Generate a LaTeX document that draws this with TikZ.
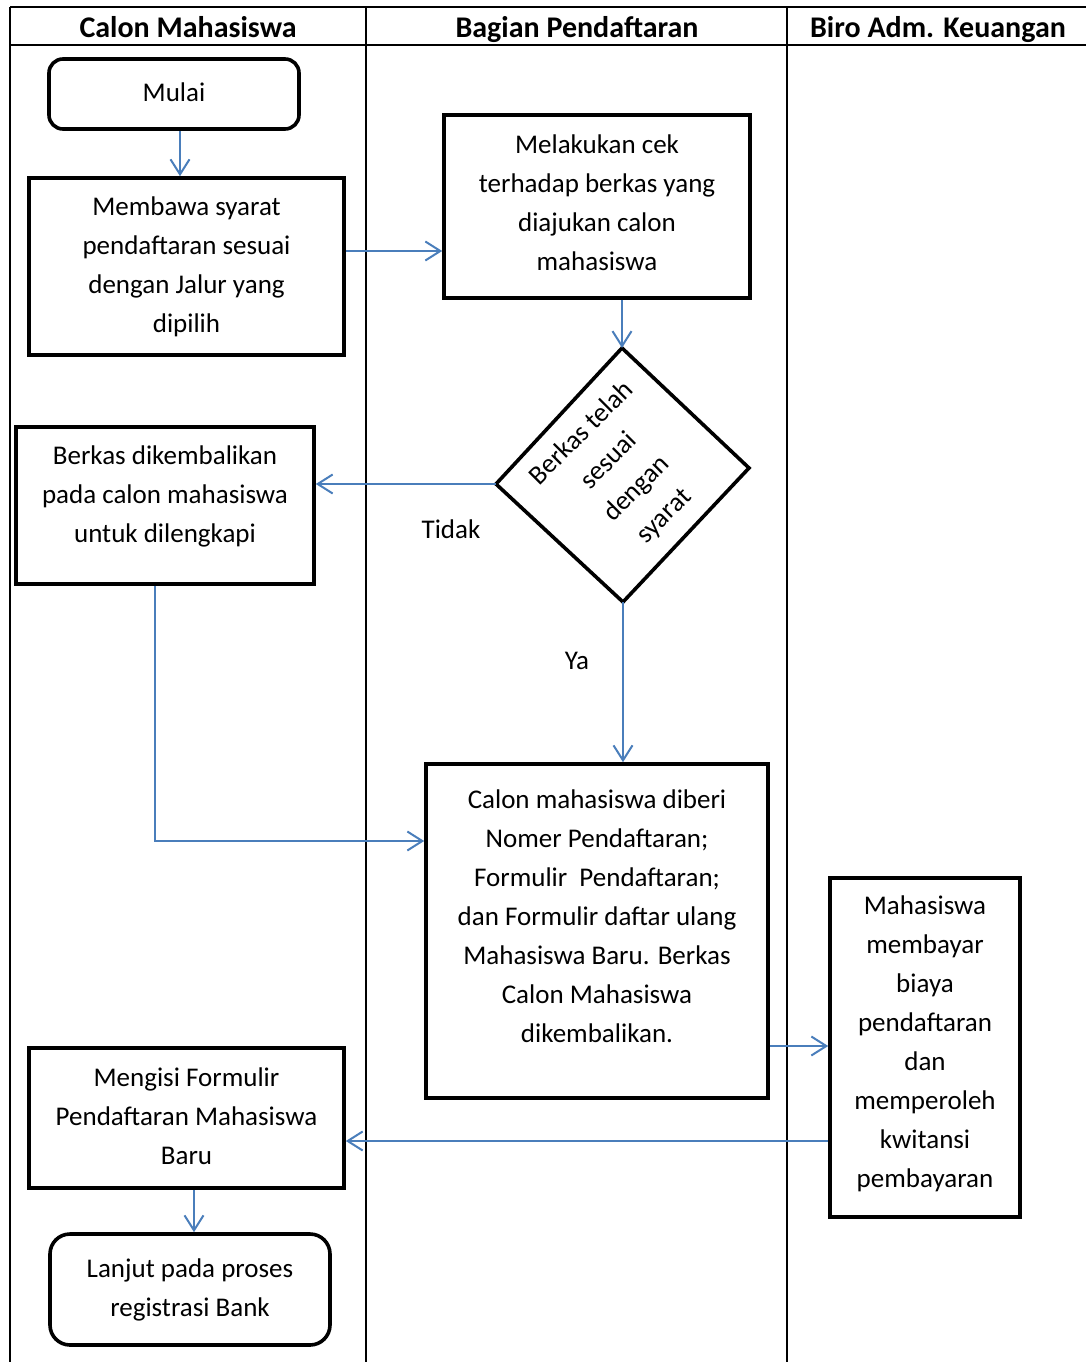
\documentclass[tikz,border=0pt]{standalone}
\usepackage{fontspec}
\setmainfont{Carlito}
\usetikzlibrary{arrows.meta,positioning}
\definecolor{arrowblue}{RGB}{74,126,187}
\tikzset{
  px/.style={x={(1pt,0)},y={(0,-1pt)}},
  frameline/.style={line width=1.6pt,black},
  boxnode/.style={draw,line width=3.6pt,rectangle,inner sep=0pt,align=center,font=\fontsize{27}{39}\selectfont},
  roundnode/.style={boxnode,rounded corners=18pt},
  txt/.style={inner sep=0pt,align=center,font=\fontsize{27}{39}\selectfont},
  hdr/.style={inner sep=0pt,anchor=base,font=\fontsize{30}{36}\selectfont\bfseries},
  flow/.style={draw=arrowblue,line width=2pt,-{Straight Barb[length=15pt,width=19pt,line width=2pt]}},
}
\begin{document}
\begin{tikzpicture}[px]
\useasboundingbox (0,0) rectangle (1086,1362);
% frame
\draw[frameline] (10,7) -- (1086,7);
\draw[frameline] (10,45) -- (1086,45);
\draw[frameline] (10,7) -- (10,1362);
\draw[frameline] (366,7) -- (366,1362);
\draw[frameline] (787,7) -- (787,1362);
\node[hdr] (h1) at (188,38) {Calon Mahasiswa};
\node[hdr] (h2) at (577,38) {Bagian Pendaftaran};
\node[hdr] (h3) at (938,38) {Biro Adm. Keuangan};
% nodes
\node[roundnode,minimum width=250pt,minimum height=70pt,rounded corners=14pt] (mulai) at (174,94) {};
\node[txt] (mulaitxt) at (174,92) {Mulai};
\node[boxnode,minimum width=315pt,minimum height=177pt] (membawa) at (186.5,266.5) {Membawa syarat\\pendaftaran sesuai\\dengan Jalur yang\\dipilih};
\node[boxnode,minimum width=306pt,minimum height=183pt] (cek) at (597,206.5) {};
\node[txt] (cektxt) at (597,203) {Melakukan cek\\terhadap berkas yang\\diajukan calon\\mahasiswa};
% diamond
\coordinate (dT) at (622,348);
\coordinate (dL) at (496,484);
\coordinate (dR) at (749,468);
\coordinate (dB) at (623,602);
\draw[line width=3.6pt,line join=miter] (dT) -- (dR) -- (dB) -- (dL) -- cycle;
\node[txt,rotate=45] (dtext) at (623,475) {Berkas telah\\sesuai\\dengan\\syarat};
\node[boxnode,minimum width=298pt,minimum height=157pt] (kembali) at (165,505.5) {};
\node[txt] (kembalitxt) at (165,496) {Berkas dikembalikan\\pada calon mahasiswa\\untuk dilengkapi};
\node[txt] (tidak) at (451,529) {Tidak};
\node[txt] (ya) at (577,661) {Ya};
\node[boxnode,minimum width=342pt,minimum height=334pt] (diberi) at (597,931) {};
\node[txt] (diberitxt) at (597,916) {Calon mahasiswa diberi\\Nomer Pendaftaran;\\Formulir\ \ Pendaftaran;\\dan Formulir daftar ulang\\Mahasiswa Baru. Berkas\\Calon Mahasiswa\\dikembalikan.};
\node[boxnode,minimum width=190pt,minimum height=339pt] (bayar) at (925,1047.5) {};
\node[txt] (bayartxt) at (925,1044) {Mahasiswa\\membayar\\biaya\\pendaftaran\\dan\\memperoleh\\kwitansi\\pembayaran};
\node[boxnode,minimum width=315pt,minimum height=140pt] (mengisi) at (186.5,1118) {};
\node[txt] (mengisitxt) at (186.5,1116) {Mengisi Formulir\\Pendaftaran Mahasiswa\\Baru};
\node[roundnode,minimum width=280pt,minimum height=111pt,rounded corners=20pt] (lanjut) at (190,1289.5) {Lanjut pada proses\\registrasi Bank};
% connectors
\draw[flow] (mulai.south -| 180,0) -- (membawa.north -| 180,0);
\draw[flow] (membawa.east |- 0,251) -- (cek.west |- 0,251);
\draw[flow] (cek.south -| dT) -- (dT);
\draw[flow] (dL) -- (kembali.east |- dL);
\draw[flow] (dB) -- (diberi.north -| dB);
\draw[flow] (kembali.south -| 155,0) -- (155,841) -- (diberi.west |- 0,841);
\draw[flow] (diberi.east |- 0,1046) -- (bayar.west |- 0,1046);
\draw[flow] (bayar.west |- 0,1141) -- (mengisi.east |- 0,1141);
\draw[flow] (mengisi.south -| 194,0) -- (lanjut.north -| 194,0);
\end{tikzpicture}
\end{document}
